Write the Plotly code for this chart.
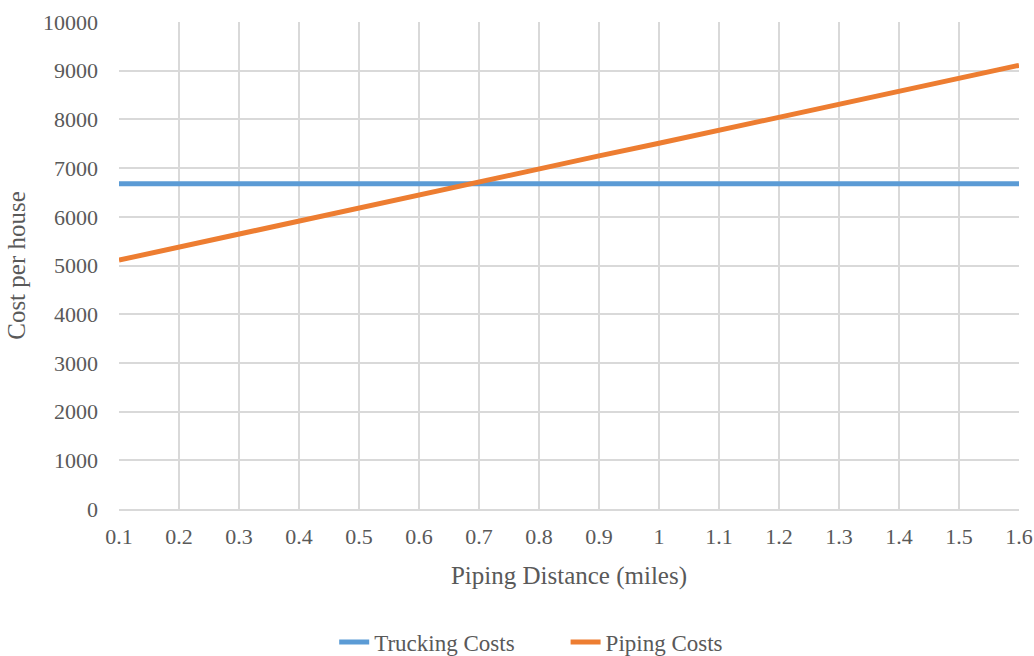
import plotly.graph_objects as go

distances = ["0.1", "0.2", "0.3", "0.4", "0.5", "0.6", "0.7", "0.8",
             "0.9", "1", "1.1", "1.2", "1.3", "1.4", "1.5", "1.6"]
trucking_costs = [6680] * 16
piping_costs = [5110, 5380, 5650, 5910, 6180, 6450, 6710, 6980,
                7250, 7510, 7780, 8050, 8310, 8580, 8850, 9110]

font_family = "Liberation Serif, Times New Roman, serif"
text_color = "#595959"
grid_color = "#d9d9d9"

fig = go.Figure()
fig.add_trace(go.Scatter(x=distances, y=trucking_costs, mode="lines",
                         name="Trucking Costs" + "\u00a0" * 8,
                         line=dict(color="#5b9bd5", width=5)))
fig.add_trace(go.Scatter(x=distances, y=piping_costs, mode="lines",
                         name="Piping Costs",
                         line=dict(color="#ed7d31", width=5)))

fig.update_layout(
    width=1034, height=656,
    margin=dict(l=119, r=15, t=22, b=147, autoexpand=False),
    plot_bgcolor="white", paper_bgcolor="white",
    font=dict(family=font_family, size=22, color=text_color),
    showlegend=True,
    legend=dict(orientation="h", x=0.458, xanchor="center", y=-0.273, yanchor="middle",
                font=dict(size=23, color=text_color), tracegroupgap=0),
    xaxis=dict(type="category", range=[0, 15], showgrid=True, gridcolor=grid_color,
               gridwidth=1.5, showline=True, linecolor=grid_color, linewidth=1.5,
               ticks="", ticklabelstandoff=7, automargin=False,
               tickfont=dict(size=22, color=text_color),
               title=dict(text="Piping Distance (miles)", font=dict(size=25, color=text_color),
                          standoff=18)),
    yaxis=dict(range=[0, 10000], dtick=1000, tickformat="d", showgrid=True, gridcolor=grid_color,
               gridwidth=1.5, zeroline=False, ticks="", ticklabelstandoff=20, automargin=True,
               tickfont=dict(size=22, color=text_color),
               title=dict(text="Cost per house", font=dict(size=25, color=text_color),
                          standoff=10)),
)

fig.write_html("out.html", config={"displayModeBar": False},
               post_script="document.body.style.margin='0';document.body.style.overflow='hidden';")
